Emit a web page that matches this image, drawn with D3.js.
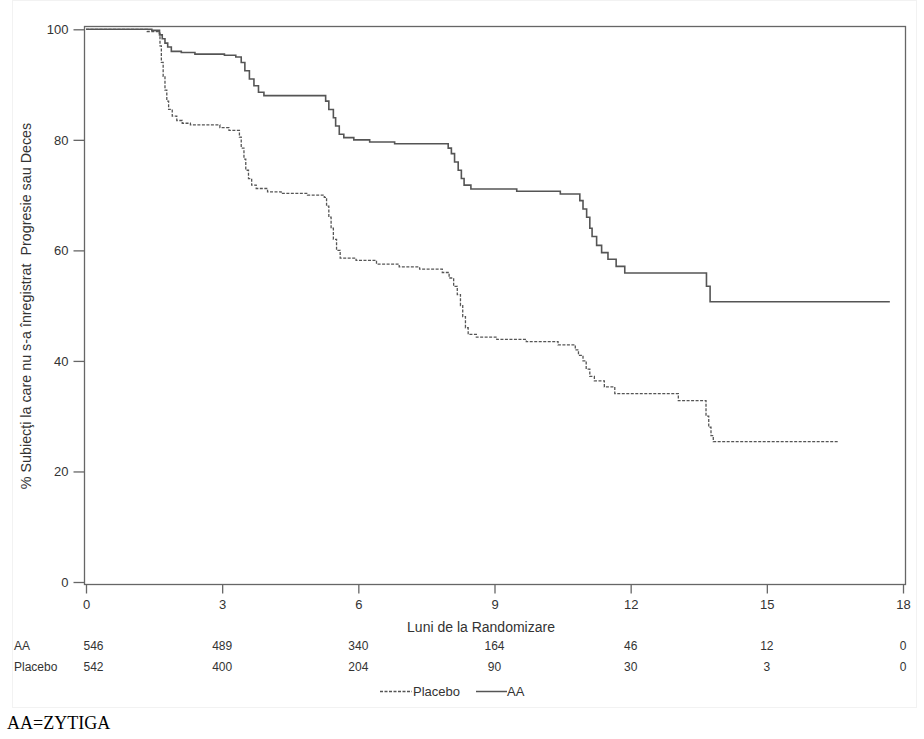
<!DOCTYPE html>
<html>
<head>
<meta charset="utf-8">
<script src="https://cdn.jsdelivr.net/npm/d3@7/dist/d3.min.js"></script>
<style>
  html, body { margin: 0; padding: 0; background: #fff; }
  svg { display: block; }
  .sans { font-family: "Liberation Sans", Arial, sans-serif; fill: #333; }
  .serif { font-family: "Liberation Serif", "Times New Roman", serif; fill: #000; }
</style>
</head>
<body>
<svg id="chart" width="924" height="739"></svg>
<script>
// ---- Data ----
const aaTimes = [0, 1.45, 1.62, 1.68, 1.74, 1.80, 1.88, 2.1, 2.4, 3.05, 3.3, 3.42, 3.5, 3.6, 3.7, 3.8, 3.92,
  5.28, 5.35, 5.45, 5.5, 5.58, 5.68, 5.9, 6.25, 6.8, 7.98, 8.05, 8.12, 8.2, 8.27, 8.33, 8.48, 9.49, 10.45,
  10.88, 10.95, 11.03, 11.1, 11.15, 11.25, 11.36, 11.5, 11.68, 11.87, 13.67, 13.75, 17.71];
const aaSurv = [100, 99.8, 99.0, 98.3, 97.5, 96.8, 96.0, 95.8, 95.5, 95.3, 95.0, 94.0, 92.5, 91.0, 89.8, 88.6, 88.0,
  87.0, 85.5, 84.0, 82.5, 81.0, 80.4, 80.0, 79.6, 79.3, 78.5, 77.5, 76.0, 74.5, 73.0, 71.8, 71.1, 70.7, 70.2,
  69.0, 67.5, 66.0, 64.0, 62.5, 60.9, 59.6, 58.4, 57.1, 55.9, 53.5, 50.7, 50.7];

const placeboTimes = [0, 1.35, 1.6, 1.63, 1.66, 1.7, 1.74, 1.78, 1.82, 1.9, 2.0, 2.12, 2.3, 2.95, 3.15, 3.38, 3.42,
  3.48, 3.52, 3.58, 3.65, 3.75, 4.0, 4.3, 4.88, 5.25, 5.3, 5.35, 5.4, 5.45, 5.52, 5.6, 5.95, 6.4, 6.9, 7.35,
  7.85, 8.0, 8.1, 8.18, 8.25, 8.3, 8.36, 8.42, 8.6, 9.05, 9.7, 10.4, 10.78, 10.85, 10.95, 11.02, 11.1, 11.2,
  11.42, 11.65, 13.05, 13.66, 13.72, 13.77, 13.82, 16.57];
const placeboSurv = [100, 99.6, 99.3, 97.0, 94.0, 91.5, 89.0, 87.0, 85.5, 84.3, 83.5, 83.0, 82.7, 82.2, 81.7, 80.5, 78.5,
  76.5, 74.5, 73.0, 71.8, 71.2, 70.6, 70.3, 70.0, 69.6, 68.0, 66.0, 64.0, 62.0, 60.0, 58.6, 58.2, 57.5, 57.0, 56.6,
  56.0, 55.0, 53.5, 52.0, 50.0, 48.0, 46.0, 44.8, 44.3, 43.9, 43.5, 42.9, 42.0, 41.0, 40.0, 38.5, 37.2, 36.4,
  35.3, 34.1, 32.8, 30.0, 28.0, 26.5, 25.4, 25.4];

const xTicks = [0, 3, 6, 9, 12, 15, 18];
const yTicks = [0, 20, 40, 60, 80, 100];
const riskGroups = ["AA", "Placebo"];
const riskAA = [546, 489, 340, 164, 46, 12, 0];
const riskPlacebo = [542, 400, 204, 90, 30, 3, 0];

const xTitle = "Luni de la Randomizare";
const yTitle = "% Subiecţi la care nu s-a înregistrat\u00a0\u00a0Progresie sau Deces";
const footnote = "AA=ZYTIGA";

// ---- Layout ----
const svg = d3.select("#chart");
const frame = { left: 84, right: 905, top: 26, bottom: 584 };
const x = d3.scaleLinear().domain([0, 18]).range([86, 903]);
const y = d3.scaleLinear().domain([0, 100]).range([582, 29.3]);
const ink = "#555";
const axisInk = "#666";

// faint outer border
svg.append("rect").attr("x", 12.5).attr("y", 0.5).attr("width", 904).attr("height", 707)
  .attr("fill", "none").attr("stroke", "#f2f2f2");

// frame
svg.append("rect")
  .attr("x", frame.left + 0.5).attr("y", frame.top + 0.5)
  .attr("width", frame.right - frame.left).attr("height", frame.bottom - frame.top)
  .attr("fill", "none").attr("stroke", axisInk).attr("stroke-width", 1.3);

// Y axis
const yAxis = d3.axisLeft(y).tickValues(yTicks).tickSize(11).tickPadding(5);
const gy = svg.append("g").attr("transform", `translate(${frame.left + 0.5},0)`).call(yAxis);
gy.select(".domain").remove();
gy.selectAll("line").attr("stroke", axisInk).attr("stroke-width", 1.3);
gy.selectAll("text").attr("class", "sans").style("font-size", "13px");

// X axis
const xAxis = d3.axisBottom(x).tickValues(xTicks).tickSize(9).tickPadding(6);
const gx = svg.append("g").attr("transform", `translate(0,${frame.bottom + 0.5})`).call(xAxis);
gx.select(".domain").remove();
gx.selectAll("line").attr("stroke", axisInk).attr("stroke-width", 1.3);
gx.selectAll("text").attr("class", "sans").style("font-size", "13px");

// axis titles
svg.append("text").attr("class", "sans").attr("x", 481).attr("y", 632).attr("text-anchor", "middle")
  .style("font-size", "14px").text(xTitle);
svg.append("text").attr("class", "sans").attr("transform", "translate(31,306) rotate(-90)")
  .attr("text-anchor", "middle").style("font-size", "14.3px").text(yTitle);

// curves
const line = d3.line().curve(d3.curveStepAfter).x(d => x(d[0])).y(d => y(d[1]));
const aaData = aaTimes.map((t, i) => [t, aaSurv[i]]);
const placeboData = placeboTimes.map((t, i) => [t, placeboSurv[i]]);

svg.append("path").datum(placeboData).attr("d", line)
  .attr("fill", "none").attr("stroke", ink).attr("stroke-width", 1.3)
  .attr("stroke-dasharray", "3,1.5");
svg.append("path").datum(aaData).attr("d", line)
  .attr("fill", "none").attr("stroke", ink).attr("stroke-width", 1.6);

// risk table
const riskRows = [riskAA, riskPlacebo];
const rowY = [650, 671];
riskGroups.forEach((g, r) => {
  svg.append("text").attr("class", "sans").attr("x", 14).attr("y", rowY[r]).style("font-size", "12px").text(g);
  riskRows[r].forEach((v, i) => {
    svg.append("text").attr("class", "sans")
      .attr("x", i === 0 ? x(xTicks[i]) - 2.5 : x(xTicks[i]))
      .attr("y", rowY[r])
      .attr("text-anchor", i === 0 ? "start" : "middle")
      .style("font-size", "12px").text(v);
  });
});

// legend
const legY = 691;
svg.append("line").attr("x1", 380).attr("x2", 412).attr("y1", legY + 0.5).attr("y2", legY + 0.5)
  .attr("stroke", ink).attr("stroke-width", 1.3).attr("stroke-dasharray", "3,1.5");
svg.append("text").attr("class", "sans").attr("x", 413).attr("y", legY + 5).style("font-size", "13px").text("Placebo");
svg.append("line").attr("x1", 476).attr("x2", 507).attr("y1", legY + 0.5).attr("y2", legY + 0.5)
  .attr("stroke", ink).attr("stroke-width", 1.5);
svg.append("text").attr("class", "sans").attr("x", 507).attr("y", legY + 5).style("font-size", "13px").text("AA");

// footnote
svg.append("text").attr("class", "serif").attr("x", 7).attr("y", 729)
  .style("font-size", "18px").text(footnote);
</script>
</body>
</html>
